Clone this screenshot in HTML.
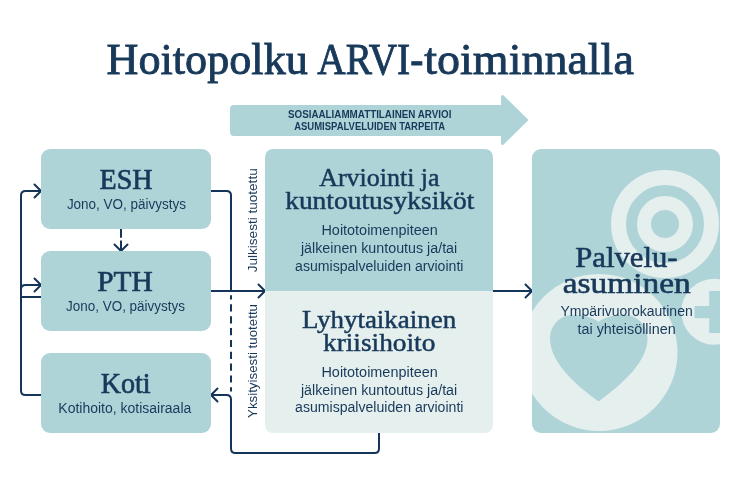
<!DOCTYPE html>
<html><head><meta charset="utf-8">
<style>
html,body{margin:0;padding:0;background:#fff;width:740px;height:500px;overflow:hidden}
svg{display:block;will-change:transform}
.serif{font-family:"Liberation Serif",serif;fill:#18395a}
.sans{font-family:"Liberation Sans",sans-serif;fill:#18395a}
.ln{fill:none;stroke:#15345a;stroke-width:2;stroke-linecap:round;stroke-linejoin:round}
</style></head>
<body>
<svg width="740" height="500" viewBox="0 0 740 500">
<defs>
<clipPath id="rb"><rect x="532" y="149" width="188" height="284" rx="9"/></clipPath>
</defs>
<!-- Title -->
<g class="serif" font-size="44" stroke="#18395a" stroke-width="0.9">
<text x="106.6" y="73.5" textLength="201.2" lengthAdjust="spacingAndGlyphs">Hoitopolku</text>
<text x="317.3" y="73.5" textLength="106" lengthAdjust="spacingAndGlyphs">ARVI-</text>
<text x="424.3" y="73.5" textLength="209.5" lengthAdjust="spacingAndGlyphs">toiminnalla</text>
</g>

<!-- Banner arrow -->
<path d="M234 105H502V136H234Q230 136 230 132V109Q230 105 234 105Z" fill="#afd4d8"/>
<path d="M502.5 96.5L526.5 120L502.5 143.5Z" fill="#afd4d8" stroke="#afd4d8" stroke-width="3" stroke-linejoin="round"/>
<text class="sans" x="369.7" y="118.4" font-size="10" font-weight="bold" text-anchor="middle" textLength="163.5" lengthAdjust="spacingAndGlyphs">SOSIAALIAMMATTILAINEN ARVIOI</text>
<text class="sans" x="369.7" y="130.2" font-size="10" font-weight="bold" text-anchor="middle" textLength="151" lengthAdjust="spacingAndGlyphs">ASUMISPALVELUIDEN TARPEITA</text>

<!-- Connector lines -->
<g class="ln">
<path d="M42 395H25.5Q21 395 21 390.5V195.5Q21 191 25.5 191H42"/>
<path d="M34.5 184.5L41 191L34.5 197.5"/>
<path d="M21 297H42"/>
<path d="M21 289.5Q21 285 25.5 285H42"/>
<path d="M34.5 278.5L41 285L34.5 291.5"/>
<path d="M210 191H226.5Q231 191 231 195.5V291"/>
<path d="M210 291H266"/>
<path d="M258.5 284.5L265 291L258.5 297.5"/>
<path d="M379 432V448.5Q379 453 374.5 453H235.5Q231 453 231 448.5V399.5Q231 395 226.5 395H210"/>
<path d="M217.5 388.5L211 395L217.5 401.5"/>
<path d="M121 228V236.9M121 241.2V251"/>
<path d="M114.5 244.5L121 251L127.5 244.5"/>
<path d="M492 291H533"/>
<path d="M525.5 284.5L532 291L525.5 297.5"/>
</g>
<path d="M231 295.2V299.6M231 304.3V311.5M231 316.2V323.4M231 328.1V335.3M231 339.9V347M231 351.7V359M231 363.6V370.8M231 375.4V382.6M231 387.3V391.5" fill="none" stroke="#15345a" stroke-width="2"/>
<!-- Left boxes -->
<rect x="41" y="149" width="170" height="80" rx="9" fill="#afd4d8"/>
<rect x="41" y="251" width="170" height="80" rx="9" fill="#afd4d8"/>
<rect x="41" y="353" width="170" height="80" rx="9" fill="#afd4d8"/>
<g class="serif" font-size="30" text-anchor="middle" stroke="#18395a" stroke-width="0.7">
<text x="126" y="189" textLength="53" lengthAdjust="spacingAndGlyphs">ESH</text>
<text x="125" y="290.9" textLength="55.5" lengthAdjust="spacingAndGlyphs">PTH</text>
<text x="125.7" y="393.2" textLength="50" lengthAdjust="spacingAndGlyphs">Koti</text>
</g>
<g class="sans" font-size="14" text-anchor="middle">
<text x="126.4" y="208.8" textLength="119" lengthAdjust="spacingAndGlyphs">Jono, VO, päivystys</text>
<text x="125.5" y="310.8" textLength="119" lengthAdjust="spacingAndGlyphs">Jono, VO, päivystys</text>
<text x="124.8" y="412.7" textLength="133" lengthAdjust="spacingAndGlyphs">Kotihoito, kotisairaala</text>
</g>

<!-- Middle boxes -->
<path d="M274 149H484Q493 149 493 158V291H265V158Q265 149 274 149Z" fill="#afd4d8"/>
<path d="M265 291H493V424Q493 433 484 433H274Q265 433 265 424Z" fill="#e4efee"/>
<g class="serif" font-size="26" text-anchor="middle" stroke="#18395a" stroke-width="0.5">
<text x="379.4" y="185.7" textLength="120.3" lengthAdjust="spacingAndGlyphs">Arviointi ja</text>
<text x="379.8" y="209.3" textLength="189.3" lengthAdjust="spacingAndGlyphs">kuntoutusyksiköt</text>
<text x="379.1" y="327.7" textLength="154.2" lengthAdjust="spacingAndGlyphs">Lyhytaikainen</text>
<text x="379.2" y="350.8" textLength="112.4" lengthAdjust="spacingAndGlyphs">kriisihoito</text>
</g>
<g class="sans" font-size="14" text-anchor="middle">
<text x="379.6" y="234.8" textLength="116.3" lengthAdjust="spacingAndGlyphs">Hoitotoimenpiteen</text>
<text x="379.1" y="252.9" textLength="156.3" lengthAdjust="spacingAndGlyphs">jälkeinen kuntoutus ja/tai</text>
<text x="379.25" y="270.5" textLength="168.4" lengthAdjust="spacingAndGlyphs">asumispalveluiden arviointi</text>
<text x="379.6" y="376.8" textLength="116.3" lengthAdjust="spacingAndGlyphs">Hoitotoimenpiteen</text>
<text x="379.1" y="394.6" textLength="156.3" lengthAdjust="spacingAndGlyphs">jälkeinen kuntoutus ja/tai</text>
<text x="379.25" y="412.2" textLength="168.4" lengthAdjust="spacingAndGlyphs">asumispalveluiden arviointi</text>
</g>
<!-- rotated labels -->
<g class="sans" font-size="13.3" text-anchor="middle">
<text transform="translate(256.9 220.3) rotate(-90)" textLength="104" lengthAdjust="spacingAndGlyphs">Julkisesti tuotettu</text>
<text transform="translate(256.7 361) rotate(-90)" textLength="114" lengthAdjust="spacingAndGlyphs">Yksityisesti tuotettu</text>
</g>

<!-- Right box -->
<rect x="532" y="149" width="188" height="284" rx="9" fill="#afd4d8"/>
<g clip-path="url(#rb)" fill="#e4efee">
<circle cx="665" cy="224" r="46.5" fill="none" stroke="#e4efee" stroke-width="15"/>
<circle cx="665" cy="224" r="21" fill="none" stroke="#e4efee" stroke-width="14"/>
<circle cx="599" cy="352.5" r="78.5"/>
<path d="M596.1 399.7C586 392 550 366 550 339C550 325 560 315 573 315C585 315 594 318 598.5 322C603 318 612 315 624 315C637 315 647.5 325 647.5 339C647.5 366 611 392 600.9 399.7Q598.5 402.6 596.1 399.7Z" fill="#afd4d8"/>
<circle cx="714.3" cy="311.7" r="33"/>
<rect x="694.5" y="306" width="42" height="12.2" fill="#afd4d8"/>
<rect x="709.2" y="291" width="12" height="42" fill="#afd4d8"/>
</g>
<g class="serif" font-size="29" text-anchor="middle" stroke="#18395a" stroke-width="0.6">
<text x="626.4" y="266.6" textLength="102.3" lengthAdjust="spacingAndGlyphs">Palvelu-</text>
<text x="626.7" y="292.6" textLength="128" lengthAdjust="spacingAndGlyphs">asuminen</text>
</g>
<g class="sans" font-size="14" text-anchor="middle">
<text x="626.6" y="316.2" textLength="132.2" lengthAdjust="spacingAndGlyphs">Ympärivuorokautinen</text>
<text x="626.6" y="333.5" textLength="98.2" lengthAdjust="spacingAndGlyphs">tai yhteisöllinen</text>
</g>

</svg>
</body></html>
